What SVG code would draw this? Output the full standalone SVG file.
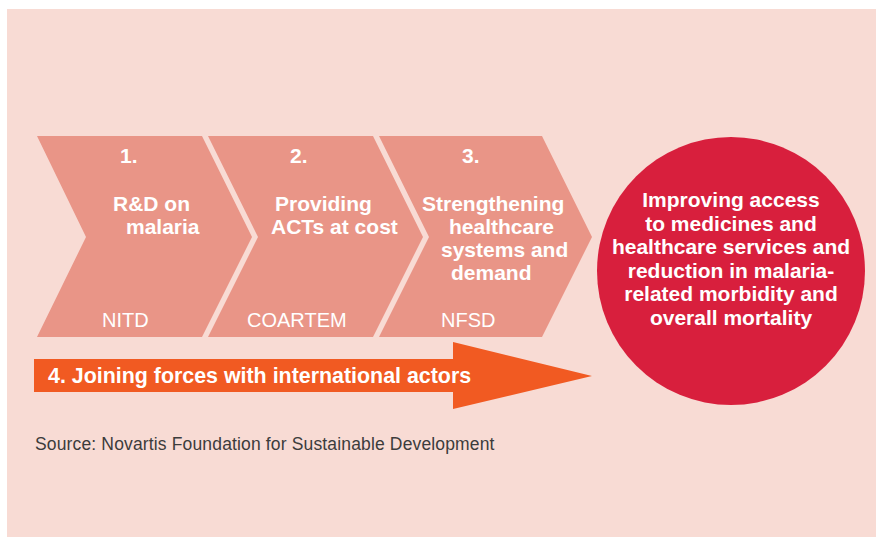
<svg xmlns="http://www.w3.org/2000/svg" width="876" height="538" viewBox="0 0 876 538">
  <style>
    .bg { fill: #F8DBD4; }
    .chev { fill: #E99587; }
    .goal { fill: #D81F3D; }
    .arrow { fill: #F15A22; }
    .b { font-family: "Liberation Sans", Arial, sans-serif; font-weight: bold; font-size: 21px; fill: #ffffff; }
    .r { font-family: "Liberation Sans", Arial, sans-serif; font-size: 20px; fill: #ffffff; }
    .src { font-family: "Liberation Sans", Arial, sans-serif; font-size: 17.5px; letter-spacing: 0.15px; fill: #3c3c3c; }
  </style>

  <!-- panel background -->
  <rect class="bg" x="7" y="9" width="869" height="528"/>

  <!-- step 1 -->
  <g id="step1">
    <polygon class="chev" points="37,136 202,136 252,237 202,337 37,337 86,237"/>
    <text class="b" x="120" y="163">1.</text>
    <text class="b" x="113" y="211">R&amp;D on</text>
    <text class="b" x="126" y="234">malaria</text>
    <text class="r" x="102" y="327">NITD</text>
  </g>

  <!-- step 2 -->
  <g id="step2">
    <polygon class="chev" points="208,136 373,136 423,237 373,337 208,337 258,237"/>
    <text class="b" x="290" y="163">2.</text>
    <text class="b" x="275" y="211">Providing</text>
    <text class="b" x="271" y="234">ACTs at cost</text>
    <text class="r" x="247" y="327">COARTEM</text>
  </g>

  <!-- step 3 -->
  <g id="step3">
    <polygon class="chev" points="379,136 542,136 592,237 542,337 379,337 429,237"/>
    <text class="b" x="462" y="163">3.</text>
    <text class="b" x="422" y="211">Strengthening</text>
    <text class="b" x="449" y="234">healthcare</text>
    <text class="b" x="441" y="257">systems and</text>
    <text class="b" x="451" y="280">demand</text>
    <text class="r" x="441" y="327">NFSD</text>
  </g>

  <!-- goal circle -->
  <g id="goal">
    <circle class="goal" cx="731" cy="271" r="134"/>
    <g class="b" text-anchor="middle">
      <text x="731" y="207">Improving access</text>
      <text x="731" y="230.5">to medicines and</text>
      <text x="731" y="254">healthcare services and</text>
      <text x="731" y="277.5">reduction in malaria-</text>
      <text x="731" y="301">related morbidity and</text>
      <text x="731" y="324.5">overall mortality</text>
    </g>
  </g>

  <!-- step 4: cross-cutting arrow -->
  <g id="step4">
    <polygon class="arrow" points="34,359 453,359 453,342 592,376 453,409 453,392 34,392"/>
    <text class="b" x="48" y="383" style="font-size:21.4px">4. Joining forces with international actors</text>
  </g>

  <!-- source note -->
  <text class="src" x="35" y="450">Source: Novartis Foundation for Sustainable Development</text>
</svg>
